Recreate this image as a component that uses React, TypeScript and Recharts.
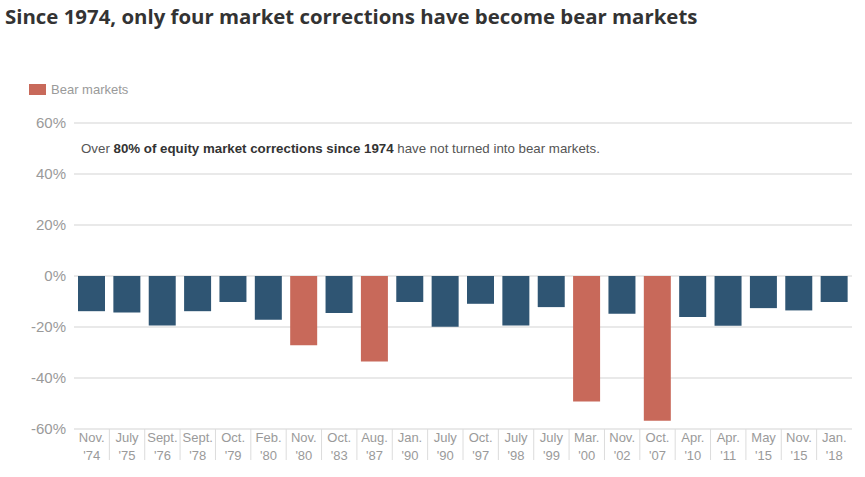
import React from "react";
import { BarChart, Bar, XAxis, YAxis, CartesianGrid, Cell } from "recharts";

const monthLabels = ["Nov.", "July", "Sept.", "Sept.", "Oct.", "Feb.", "Nov.", "Oct.", "Aug.", "Jan.", "July", "Oct.", "July", "July", "Mar.", "Nov.", "Oct.", "Apr.", "Apr.", "May", "Nov.", "Jan."];
const yearLabels = ["'74", "'75", "'76", "'78", "'79", "'80", "'80", "'83", "'87", "'90", "'90", "'97", "'98", "'99", "'00", "'02", "'07", "'10", "'11", "'15", "'15", "'18"];
const declines = [-13.8, -14.3, -19.4, -13.8, -10.2, -17.2, -27.2, -14.5, -33.5, -10.2, -19.9, -10.9, -19.4, -12.2, -49.2, -14.8, -56.8, -16.1, -19.5, -12.6, -13.5, -10.2];
const isBear = [false, false, false, false, false, false, true, false, true, false, false, false, false, false, true, false, true, false, false, false, false, false];
const yTicks = [-60, -40, -20, 0, 20, 40, 60];

const NAVY = "#2f5573";
const RED = "#c8695a";

const data = declines.map((v, i) => ({
  key: String(i),
  month: monthLabels[i],
  year: yearLabels[i],
  value: v,
  bear: isBear[i],
}));

const W = 865;
const H = 477;
const PLOT_LEFT = 74;
const PLOT_RIGHT = 852;
const HALF_BAND = (PLOT_RIGHT - PLOT_LEFT) / data.length / 2;

const XTick = (props: any) => {
  const { x, y, payload } = props;
  const idx = Number(payload.value);
  const d = data[idx];
  return (
    <g>
      {idx > 0 && (
        <line x1={x - HALF_BAND} x2={x - HALF_BAND} y1={y} y2={y + 31} stroke="#dcdcdc" strokeWidth={1} />
      )}
      <text x={x} y={y + 13} textAnchor="middle" fontSize={13} fill="#9a9a9a" fontFamily="Liberation Sans, Arial, sans-serif">
        {d.month}
      </text>
      <text x={x} y={y + 31} textAnchor="middle" fontSize={13} fill="#9a9a9a" fontFamily="Liberation Sans, Arial, sans-serif">
        {d.year}
      </text>
    </g>
  );
};

export default function App() {
  return (
    <div style={{ position: "absolute", left: 0, top: 0, width: W, height: H, background: "#fff" }}>
      <BarChart
        width={W}
        height={H}
        data={data}
        margin={{ top: 123, right: W - PLOT_RIGHT, bottom: 0, left: 0 }}
        barSize={27}
      >
        <CartesianGrid vertical={false} stroke="#e2e2e2" strokeWidth={1.5} />
        <YAxis
          type="number"
          domain={[-60, 60]}
          ticks={yTicks}
          tickFormatter={(v: number) => `${v}%`}
          axisLine={false}
          tickLine={false}
          width={PLOT_LEFT}
          interval={0}
          tick={{ fontSize: 15, fill: "#9a9a9a", fontFamily: "Liberation Sans, Arial, sans-serif" }}
        />
        <XAxis
          dataKey="key"
          axisLine={false}
          tickLine={false}
          tickSize={0}
          tickMargin={0}
          interval={0}
          height={48}
          tick={<XTick />}
        />
        <Bar dataKey="value" isAnimationActive={false}>
          {data.map((d, i) => (
            <Cell key={i} fill={d.bear ? RED : NAVY} />
          ))}
        </Bar>
      </BarChart>
      <svg width={W} height={H} style={{ position: "absolute", left: 0, top: 0, pointerEvents: "none" }}>
        <text x={5} y={24} fontSize={20.4} fontWeight={700} fill="#333333" fontFamily="Open Sans, sans-serif">
          Since 1974, only four market corrections have become bear markets
        </text>
        <rect x={29} y={84} width={17} height={11} fill={RED} />
        <text x={51} y={94} fontSize={13} fill="#9a9a9a" fontFamily="Liberation Sans, Arial, sans-serif">
          Bear markets
        </text>
        <text x={81} y={153} fontSize={13.3} fill="#555555" fontFamily="Liberation Sans, Arial, sans-serif">
          <tspan>Over </tspan>
          <tspan fontWeight={700} fill="#333333">80% of equity market corrections since 1974</tspan>
          <tspan> have not turned into bear markets.</tspan>
        </text>
      </svg>
    </div>
  );
}
